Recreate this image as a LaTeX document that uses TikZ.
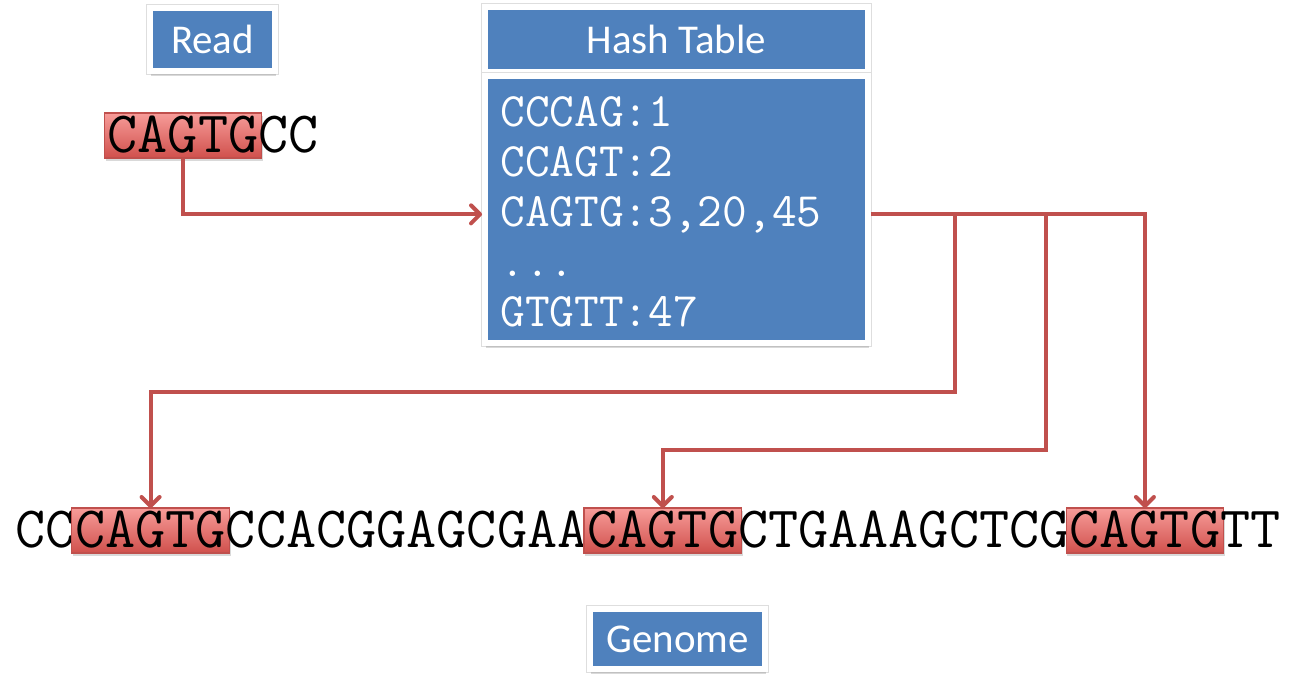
\documentclass[tikz,border=0pt]{standalone}
\usepackage{fontspec}
\setmainfont{Carlito}
\usepackage{xcolor}
\usepackage{tikz}
\usetikzlibrary{arrows.meta,positioning,shadows}

\definecolor{hdblue}{HTML}{4F81BD}
\definecolor{hitred}{HTML}{C0504D}
\definecolor{hittop}{HTML}{F79C99}
\definecolor{hitbot}{HTML}{D0504C}

\begin{document}
\begin{tikzpicture}[
  x=0.02cm, y=-0.02cm,
  lbox/.style  = {fill=hdblue, draw=white, line width=3.4pt, text=white,
                  font=\fontsize{23.3}{28}\selectfont, inner sep=0pt,
                  preaction={draw=black!13, line width=4.4pt},
                  drop shadow={shadow xshift=0.8pt, shadow yshift=-2.6pt,
                               opacity=0.3}},
  seq/.style   = {font=\ttfamily\fontsize{33.3}{35}\selectfont, inner sep=0pt,
                  outer sep=0pt, text height=20.3pt, text depth=0.5pt},
  seqhl/.style = {seq, inner xsep=2pt, inner ysep=2.4pt, outer xsep=-2pt,
                  draw=hitred, line width=0.6pt, top color=hittop,
                  bottom color=hitbot,
                  drop shadow={shadow xshift=0.8pt, shadow yshift=-1.6pt,
                               opacity=0.3}},
  entry/.style = {font=\ttfamily\fontsize{27.3}{30}\selectfont, text=white,
                  anchor=base west, inner sep=0pt},
  arr/.style   = {-{Straight Barb[length=1.8mm,width=3.6mm,round]},
                  hitred, line width=2.3pt}
]
\useasboundingbox (0,0) rectangle (1304,684);
%% -- Labels --
\node[lbox, minimum width=2.5cm, minimum height=1.26cm]  (rdlbl) at (212.5,39.5) {Read};
\node[lbox, minimum width=7.66cm, minimum height=1.3cm]  (hdr)   at (676.5,39.5) {Hash Table};
\node[lbox, minimum width=7.66cm, minimum height=5.34cm] (tbl)   at (676.5,209.5) {};
\node[lbox, minimum width=3.5cm, minimum height=1.2cm]   (gen)   at (677.5,639) {Genome};
%% -- Hash entries --
\node[entry] (e1) at (500,126) {CCCAG:1};
\node[entry] (e2) at (500,176) {CCAGT:2};
\node[entry] (e3) at (500,226) {CAGTG:3,20,45};
\node[entry] (e4) at (500,276) {...};
\node[entry] (e5) at (500,326) {GTGTT:47};
%% -- Read --
\node[seqhl]                  (rdhit)  at (183,135.5) {CAGTG};
\node[seq, right=0pt of rdhit] (rdrest) {CC};
%% -- Genome --
\node[seq, anchor=west]       (g0)   at (15,530.5) {CC};
\node[seqhl, right=0pt of g0]   (hit1) {CAGTG};
\node[seq, right=0pt of hit1]   (g1)   {CCACGGAGCGAA};
\node[seqhl, right=0pt of g1]   (hit2) {CAGTG};
\node[seq, right=0pt of hit2]   (g2)   {CTGAAAGCTCG};
\node[seqhl, right=0pt of g2]   (hit3) {CAGTG};
\node[seq, right=0pt of hit3]   (g3)   {TT};
%% -- Lookup --
\draw[arr] (rdhit.south) |- (e3.west -| tbl.west);
%% -- Hits --
\coordinate (br1) at (e3.west -| 955,0);
\coordinate (br2) at (e3.west -| 1046,0);
\coordinate (lv1) at (0,392);
\coordinate (lv2) at (0,450);
\draw[arr] (e3.west -| tbl.east) -| (hit3.north);
\draw[arr] (br1) |- (hit1.north |- lv1) -- (hit1.north);
\draw[arr] (br2) |- (hit2.north |- lv2) -- (hit2.north);
\end{tikzpicture}
\end{document}
